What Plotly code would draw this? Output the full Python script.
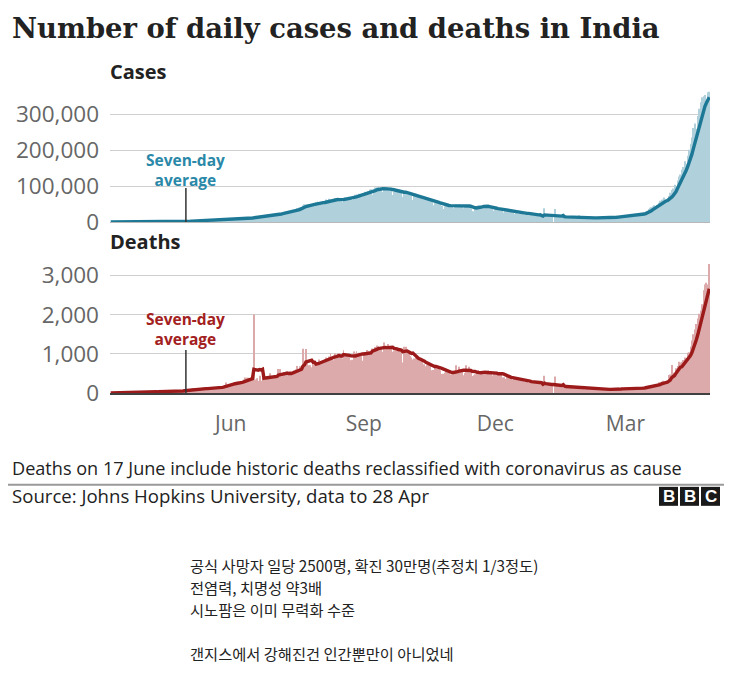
import pandas as pd
import plotly.graph_objects as go

# ---------------- data (daily, India, from 10 Mar 2020 to 28 Apr 2021) ----------------
start_date = "2020-03-10"

cases_2020_mar = [4, 12, 11, 7, 8, 14, 12, 16, 21, 44, 50, 76, 71, 86, 103, 37, 121, 70, 160, 100, 227, 146]
cases_2020_apr = [601, 545, 478, 637, 515, 573, 565, 813, 871, 854, 758, 1243, 1031, 886, 1061, 922, 1371, 1580, 1239, 1537,
                  1292, 1667, 1408, 1835, 1607, 1561, 1873, 1738, 1801, 1718]
cases_2020_may = [1993, 2293, 2644, 2806, 3932, 2963, 3587, 3364, 3344, 4353, 3607, 3524, 3763, 3942, 3787, 4864, 5050, 4630,
                  6147, 5553, 6198, 6568, 6629, 7111, 6414, 6387, 6566, 7466, 8380, 7964, 8392]
cases_2020_jun = [8171, 8909, 9304, 9851, 9887, 9971, 10408, 9983, 9985, 10956, 11458, 11929, 11502, 10667, 10032, 12881,
                  13586, 14516, 15413, 14821, 14933, 15968, 16922, 17296, 18552, 19906, 19459, 18522, 18653, 19148]
cases_2020_jul = [20903, 22771, 24850, 24248, 22252, 22752, 24879, 26506, 27114, 28637, 28701, 29429, 28498, 29917, 32695,
                  34956, 38902, 40425, 40243, 37148, 45720, 49310, 48916, 48661, 49931, 46484, 47703, 48513, 52123, 55079, 57118]
cases_2020_aug = [54735, 52972, 52050, 52509, 56282, 62538, 61537, 64399, 62064, 53601, 60963, 66999, 64553, 65002, 63490,
                  57981, 55079, 64531, 69652, 68898, 69878, 70488, 69239, 61408, 67151, 75760, 77266, 76472, 78761, 78512, 69921]
cases_2020_sep = [78357, 83883, 83341, 86432, 90632, 90802, 75809, 89706, 95735, 96551, 97570, 94372, 92071, 83809, 90123,
                  97894, 96424, 93337, 92605, 86961, 75083, 83347, 86508, 86052, 85362, 88600, 82170, 70589, 80472, 86821]
cases_2020_oct = [81484, 79476, 75829, 74442, 61267, 72049, 78524, 70496, 73272, 74383, 66732, 55342, 63509, 67708, 63371,
                  62212, 61871, 55722, 46790, 54044, 55839, 54366, 53370, 50129, 45149, 36469, 43893, 49881, 48648, 48268, 46963]
cases_2020_nov = [45231, 38310, 46253, 50210, 47638, 50357, 45674, 45903, 38073, 44281, 47905, 44879, 44684, 41100, 30548,
                  29164, 38617, 45576, 45882, 46232, 45209, 44059, 37975, 44376, 44489, 43082, 41322, 41810, 38772, 31118]
cases_2020_dec = [36604, 35668, 36595, 36652, 36011, 32981, 26567, 32080, 31522, 29398, 30006, 30254, 27071, 22065, 26382,
                  24010, 22890, 25152, 25153, 26624, 19556, 23950, 24712, 23068, 18732, 22273, 20021, 16432, 20550, 21822, 20036]
cases_2021_jan = [19079, 18177, 0, 38500, 18088, 20346, 18139, 18222, 18645, 0, 36000, 15968, 16946, 15590, 15158, 15144,
                  13788, 10064, 13823, 15223, 14545, 14256, 14849, 13203, 9102, 12689, 11666, 18855, 13083, 13052, 12000]
cases_2021_feb = [8635, 11039, 12899, 12408, 12194, 11713, 11831, 9110, 11067, 12923, 9309, 12143, 12194, 11649, 9121, 11610,
                  12881, 13193, 13993, 13993, 14264, 10584, 13742, 16738, 16577, 16488, 16752, 15510]
cases_2021_mar = [12286, 14989, 17407, 17407, 18327, 18711, 18650, 15388, 17921, 22854, 23285, 24882, 24882, 26291, 24492,
                  28903, 35871, 39726, 40953, 43846, 46951, 40715, 47262, 53476, 59118, 62258, 62714, 68020, 56211, 53480, 72330]
cases_2021_apr = [81466, 89129, 93249, 103558, 96982, 115736, 126789, 131968, 145384, 152879, 168912, 161736, 184372, 200739,
                  217353, 234692, 261500, 273810, 259170, 295041, 314835, 332730, 346786, 349691, 352991, 323144, 360960, 362000]

deaths_2020_mar = [0, 1, 0, 1, 0, 0, 1, 0, 1, 1, 0, 3, 1, 1, 2, 4, 3, 5, 5, 11, 3, 8]
deaths_2020_apr = [15, 12, 14, 23, 4, 35, 16, 38, 33, 33, 35, 43, 35, 51, 43, 29, 43, 36, 36, 33, 47, 50, 37, 46, 53, 41, 54,
                   50, 72, 71]
deaths_2020_may = [75, 63, 83, 100, 114, 126, 104, 97, 110, 111, 85, 122, 134, 103, 100, 119, 120, 134, 154, 132, 140, 136,
                   147, 142, 146, 154, 175, 194, 266, 175, 230]
deaths_2020_jun = [222, 216, 258, 272, 287, 283, 257, 265, 274, 343, 396, 387, 385, 325, 380, 336, 2003, 341, 375, 305, 436,
                   312, 457, 407, 384, 407, 381, 501, 382, 424]
deaths_2020_jul = [434, 379, 442, 613, 613, 425, 467, 482, 487, 475, 519, 551, 500, 553, 582, 606, 687, 543, 681, 587, 1129,
                   775, 1120, 757, 708, 705, 654, 768, 775, 779, 764]
deaths_2020_aug = [853, 803, 771, 803, 857, 904, 886, 933, 1007, 871, 834, 1007, 942, 1007, 1005, 941, 876, 1092, 977, 983,
                   945, 912, 836, 848, 1059, 1023, 1065, 1021, 1023, 971, 819]
deaths_2020_sep = [1045, 1043, 1096, 1069, 1065, 1016, 1133, 1115, 1172, 1209, 1201, 1114, 1136, 1054, 1290, 1132, 1174, 1247,
                   1133, 1130, 1053, 1085, 1129, 1089, 1141, 1124, 1039, 776, 1179, 1181]
deaths_2020_oct = [1069, 1000, 940, 903, 855, 880, 890, 856, 840, 830, 816, 706, 730, 680, 720, 750, 690, 579, 587, 717, 702,
                   680, 650, 578, 480, 488, 517, 587, 551, 563, 470]
deaths_2020_nov = [470, 496, 514, 704, 577, 670, 559, 577, 449, 508, 705, 547, 670, 547, 435, 449, 474, 585, 584, 562, 511,
                   501, 480, 488, 524, 584, 496, 485, 443, 482]
deaths_2020_dec = [501, 540, 482, 524, 512, 391, 402, 354, 411, 442, 387, 391, 336, 355, 387, 355, 338, 347, 341, 304, 279,
                   333, 336, 251, 264, 251, 279, 251, 286, 299, 264]
deaths_2021_jan = [224, 217, 0, 440, 201, 234, 212, 228, 190, 0, 420, 202, 181, 188, 175, 161, 145, 136, 151, 162, 163, 152,
                   131, 127, 137, 123, 162, 120, 163, 127, 127]
deaths_2021_feb = [94, 107, 108, 120, 107, 94, 84, 78, 108, 107, 80, 101, 96, 87, 77, 88, 90, 100, 101, 87, 86, 78, 80, 138,
                   119, 108, 113, 88]
deaths_2021_mar = [106, 98, 134, 110, 104, 108, 100, 97, 77, 126, 140, 140, 161, 112, 161, 131, 172, 188, 154, 188, 197, 212,
                   199, 275, 257, 291, 312, 291, 212, 271, 459]
deaths_2021_apr = [469, 714, 514, 478, 630, 685, 794, 780, 794, 839, 904, 879, 1027, 1038, 1185, 1341, 1501, 1619, 1761, 1900,
                   2023, 2104, 2263, 2624, 2767, 2812, 2771, 3293]

cases_ticks = [0, 100000, 200000, 300000]
cases_tick_labels = ["0", "100,000", "200,000", "300,000"]
deaths_ticks = [0, 1000, 2000, 3000]
deaths_tick_labels = ["0", "1,000", "2,000", "3,000"]
month_ticks = ["2020-06-01", "2020-09-01", "2020-12-01", "2021-03-01"]
month_labels = ["Jun", "Sep", "Dec", "Mar"]

korean_lines = [
    "공식 사망자 일당 2500명, 확진 30만명(추정치 1/3정도)",
    "전염력, 치명성 약3배",
    "시노팜은 이미 무력화 수준",
    "",
    "갠지스에서 강해진건 인간뿐만이 아니었네",
]

# ---------------- assemble ----------------
cases = (cases_2020_mar + cases_2020_apr + cases_2020_may + cases_2020_jun + cases_2020_jul + cases_2020_aug +
         cases_2020_sep + cases_2020_oct + cases_2020_nov + cases_2020_dec + cases_2021_jan + cases_2021_feb +
         cases_2021_mar + cases_2021_apr)
deaths = (deaths_2020_mar + deaths_2020_apr + deaths_2020_may + deaths_2020_jun + deaths_2020_jul + deaths_2020_aug +
          deaths_2020_sep + deaths_2020_oct + deaths_2020_nov + deaths_2020_dec + deaths_2021_jan + deaths_2021_feb +
          deaths_2021_mar + deaths_2021_apr)
dates = pd.date_range(start_date, periods=len(cases), freq="D")
cases_avg = pd.Series(cases).rolling(7, min_periods=1).mean()
deaths_avg = pd.Series(deaths).rolling(7, min_periods=1).mean()

# page body has an 8px margin; the capture is squeezed vertically by ~678/693
OFF = 8
KY = 678 / 693
W, H = 716, 672


def py(px):
    return 1 - (px / KY - OFF) / H


def pxx(px):
    return (px - OFF) / W


CASE_BAR = "#b0d0dc"
CASE_LINE = "#1d7896"
DEATH_BAR = "#dcaaaa"
DEATH_LINE = "#9c1a1a"
SANS = "Open Sans"

fig = go.Figure()
fig.add_trace(go.Bar(x=dates, y=cases, marker=dict(color=CASE_BAR, line=dict(width=0)), xaxis="x", yaxis="y"))
fig.add_trace(go.Scatter(x=dates, y=cases_avg, mode="lines", line=dict(color=CASE_LINE, width=3.4),
                         xaxis="x", yaxis="y"))
fig.add_trace(go.Bar(x=dates, y=deaths, marker=dict(color=DEATH_BAR, line=dict(width=0)), xaxis="x2", yaxis="y2"))
fig.add_trace(go.Scatter(x=dates, y=deaths_avg, mode="lines", line=dict(color=DEATH_LINE, width=3.4),
                         xaxis="x2", yaxis="y2"))

xrange = ["2020-03-09 12:00", "2021-04-28 12:00"]
xdom = [pxx(110), pxx(710)]
cases_top = 300000 * (222 - 90) / 108
deaths_top = 3000 * (393 - 258) / 117.5

fig.update_layout(
    width=W, height=H,
    margin=dict(l=0, r=0, t=0, b=0),
    paper_bgcolor="white", plot_bgcolor="white",
    showlegend=False, bargap=0.35,
    xaxis=dict(type="date", domain=xdom, range=xrange, anchor="y", showticklabels=False, showgrid=False,
               zeroline=False, showline=True, linecolor="#b8b8b8", linewidth=1, ticks=""),
    xaxis2=dict(type="date", domain=xdom, range=xrange, anchor="y2", showgrid=False, zeroline=False,
                showline=True, linecolor="#404040", linewidth=2, ticks="",
                tickvals=month_ticks, ticktext=month_labels, ticklabelstandoff=11,
                tickfont=dict(family=SANS, size=21, color="#666666")),
    yaxis=dict(domain=[py(222), py(90)], range=[0, cases_top], tickvals=cases_ticks, ticktext=cases_tick_labels,
               showgrid=True, gridcolor="#cfcfcf", gridwidth=1, zeroline=False, showline=False, ticks="",
               ticklabelstandoff=10, tickfont=dict(family=SANS, size=22.5, color="#666666"), anchor="x"),
    yaxis2=dict(domain=[py(393), py(258)], range=[0, deaths_top], tickvals=deaths_ticks, ticktext=deaths_tick_labels,
                showgrid=True, gridcolor="#cfcfcf", gridwidth=1, zeroline=False, showline=False, ticks="",
                ticklabelstandoff=10, tickfont=dict(family=SANS, size=22.5, color="#666666"), anchor="x2"),
)

ann = []
# title and panel headers
ann.append(dict(text="<b>Number of daily cases and deaths in India</b>", x=pxx(10), y=py(28), xref="paper",
                yref="paper", xanchor="left", yanchor="middle", showarrow=False,
                font=dict(family="DejaVu Serif", size=27.4, color="#222222")))
ann.append(dict(text="<b>Cases</b>", x=pxx(108), y=py(71), xref="paper", yref="paper", xanchor="left",
                yanchor="middle", showarrow=False, font=dict(family=SANS, size=20, color="#222222")))
ann.append(dict(text="<b>Deaths</b>", x=pxx(108), y=py(241), xref="paper", yref="paper", xanchor="left",
                yanchor="middle", showarrow=False, font=dict(family=SANS, size=20, color="#222222")))

# seven-day average call-outs (two-line labels)
mark_date = "2020-05-01"
callouts = [("x", "y", (222 - 170) / 108 * 300000, "#2a88a8"),
            ("x2", "y2", (393 - 329) / 117.5 * 3000, "#a32020")]
for xr, yr, y_mid, col in callouts:
    ann.append(dict(text="<b>Seven-day</b><br><b>average</b>", x=mark_date, y=y_mid, xref=xr, yref=yr,
                    showarrow=False, yanchor="middle", align="center",
                    font=dict(family=SANS, size=15.5, color=col)))

# footer
ann.append(dict(text="Deaths on 17 June include historic deaths reclassified with coronavirus as cause",
                x=pxx(10), y=py(468), xref="paper", yref="paper", xanchor="left", yanchor="middle",
                showarrow=False, font=dict(family=SANS, size=18.1, color="#222222")))
ann.append(dict(text="Source: Johns Hopkins University, data to 28 Apr",
                x=pxx(10), y=py(496), xref="paper", yref="paper", xanchor="left", yanchor="middle",
                showarrow=False, font=dict(family=SANS, size=18.6, color="#222222")))
for letter, cx in zip(["B", "B", "C"], [668.5, 689.5, 710.5]):
    ann.append(dict(text="<b>%s</b>" % letter, x=pxx(cx), y=py(497), xref="paper", yref="paper",
                    xanchor="center", yanchor="middle", showarrow=False,
                    font=dict(family="Liberation Sans", size=17, color="white")))

# Korean commentary
for i, line in enumerate(korean_lines):
    if line:
        ann.append(dict(text=line, x=pxx(188), y=py(565 + 22 * i), xref="paper", yref="paper",
                        xanchor="left", yanchor="middle", showarrow=False,
                        font=dict(family="Noto Sans CJK KR", size=15.3, color="#222222")))

shapes = []
# white patches behind the call-out text (hide gridlines, keep traces on top)
for yr, y0p, y1p, x0p, x1p, ymap in [
        ("y", 152, 191, 140, 230, lambda p: (222 - p) / 108 * 300000),
        ("y2", 311, 347, 132, 232, lambda p: (393 - p) / 117.5 * 3000)]:
    shapes.append(dict(type="rect", xref="paper", yref=yr, x0=pxx(x0p), x1=pxx(x1p), y0=ymap(y1p), y1=ymap(y0p),
                       fillcolor="white", line=dict(width=0), layer="between"))
shapes.append(dict(type="line", xref="x", yref="y", x0=mark_date, x1=mark_date, y0=0,
                   y1=(222 - 188) / 108 * 300000, line=dict(color="#333333", width=1.5)))
shapes.append(dict(type="line", xref="x2", yref="y2", x0=mark_date, x1=mark_date, y0=0,
                   y1=(393 - 350) / 117.5 * 3000, line=dict(color="#333333", width=1.5)))
shapes.append(dict(type="line", xref="paper", yref="paper", x0=0, x1=1, y0=py(485), y1=py(485),
                   line=dict(color="#9a9a9a", width=2)))
for x0 in [659, 680, 701]:
    shapes.append(dict(type="rect", xref="paper", yref="paper", x0=pxx(x0), x1=pxx(x0 + 19), y0=py(506),
                       y1=py(487), fillcolor="#1a1a1a", line=dict(width=0)))

fig.update_layout(annotations=ann, shapes=shapes)
fig.write_html("out.html")
